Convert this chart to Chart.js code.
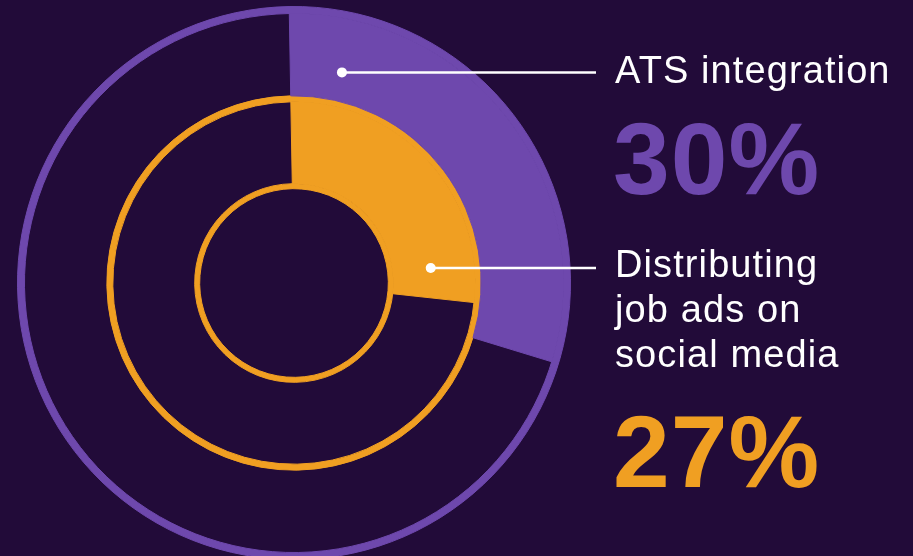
<!DOCTYPE html>
<html>
<head>
<meta charset="utf-8">
<script src="https://cdn.jsdelivr.net/npm/chart.js@4/dist/chart.umd.min.js"></script>
<style>
  html, body { margin: 0; padding: 0; background: #220b39; overflow: hidden; }
  #wrap { position: relative; width: 913px; height: 556px; overflow: hidden; }
  #chart { position: absolute; left: 0; top: 0; }
  .lbl { position: absolute; left: 615px; color: #fff; font-family: "Liberation Sans", Arial, sans-serif;
         font-size: 38px; line-height: 45px; letter-spacing: 1.1px; white-space: nowrap; }
  .pct { position: absolute; left: 613px; font-family: "Liberation Sans", Arial, sans-serif;
         font-weight: bold; font-size: 102px; line-height: 102px; letter-spacing: 1px; white-space: nowrap; }
</style>
</head>
<body>
<div id="wrap">
  <canvas id="chart" width="913" height="566"></canvas>
  <div class="lbl" id="lbl0" style="top:48px"></div>
  <div class="pct" id="pct0" style="top:108px"></div>
  <div class="lbl" id="lbl1" style="top:242px"></div>
  <div class="pct" id="pct1" style="top:401px"></div>
</div>
<script>
// données
const categories = ['ATS integration', 'Distributing job ads on social media'];
const shares = [30, 27];
const labelLines = [['ATS integration'], ['Distributing', 'job ads on', 'social media']];
const percentLabels = ['30%', '27%'];

const bg = '#220b39';
const colors = ['#6e48ad', '#f09f22'];

// textes
for (let i = 0; i < categories.length; i++) {
    document.getElementById('lbl' + i).innerHTML = labelLines[i].join('<br>');
    let p = document.getElementById('pct' + i);
    p.textContent = percentLabels[i];
    p.style.color = colors[i];
}

// anneaux : ligne fine, part, ligne fine, part, ligne fine
const ringDatasets = [
    { data: [100], backgroundColor: [colors[0]], borderColor: [colors[0]], weight: 7 },
    { data: [shares[0], 100 - shares[0]], backgroundColor: [colors[0], 'transparent'], borderColor: [colors[0], 'transparent'], weight: 82.5 },
    { data: [100], backgroundColor: [colors[1]], borderColor: [colors[1]], weight: 6 },
    { data: [shares[1], 100 - shares[1]], backgroundColor: [colors[1], 'transparent'], borderColor: [colors[1], 'transparent'], weight: 82 },
    { data: [100], backgroundColor: [colors[1]], borderColor: [colors[1]], weight: 5 }
];
const wedgeIndex = [1, 3];
// position du point sur la part (fraction d'angle, fraction de rayon)
const anchors = [{ a: 0.128, r: 0.35 }, { a: 0.872, r: 0.467 }];
const leaderEndX = 596;

const leaders = {
    id: 'leaders',
    afterDatasetsDraw(chart) {
        const ctx = chart.ctx;
        for (let i = 0; i < wedgeIndex.length; i++) {
            let arc = chart.getDatasetMeta(wedgeIndex[i]).data[0];
            let ang = arc.startAngle + (arc.endAngle - arc.startAngle) * anchors[i].a;
            let rad = arc.innerRadius + (arc.outerRadius - arc.innerRadius) * anchors[i].r;
            let x = arc.x + Math.cos(ang) * rad;
            let y = arc.y + Math.sin(ang) * rad;
            ctx.save();
            ctx.strokeStyle = '#fff';
            ctx.fillStyle = '#fff';
            ctx.lineWidth = 2.5;
            ctx.beginPath();
            ctx.moveTo(x, y);
            ctx.lineTo(leaderEndX, y);
            ctx.stroke();
            ctx.beginPath();
            ctx.arc(x, y, 5, 0, Math.PI * 2);
            ctx.fill();
            ctx.restore();
        }
    }
};

new Chart(document.getElementById('chart'), {
    type: 'doughnut',
    data: { labels: ['part', 'reste'], datasets: ringDatasets },
    options: {
        responsive: false,
        animation: false,
        rotation: -1,
        cutout: (94.5 / 277 * 100) + '%',
        borderWidth: 1,
        hoverOffset: 0,
        layout: { padding: { left: 17, right: 342, top: 6, bottom: 6 } },
        plugins: { legend: { display: false }, tooltip: { enabled: false } },
        events: []
    },
    plugins: [leaders]
});
</script>
</body>
</html>
